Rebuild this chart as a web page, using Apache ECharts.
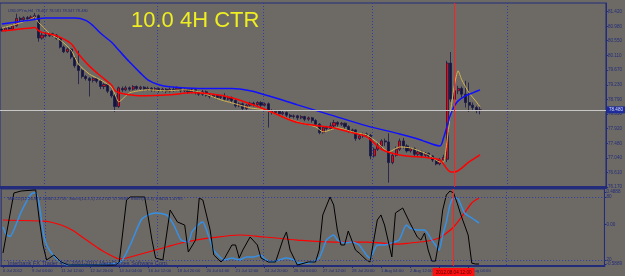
<!DOCTYPE html>
<html>
<head>
<meta charset="utf-8">
<script src="https://cdn.jsdelivr.net/npm/echarts@6/dist/echarts.min.js"></script>
<style>
html, body { margin: 0; padding: 0; background: #6d6a66; }
#chart { width: 625px; height: 276px; }
</style>
</head>
<body>
<div id="chart"></div>
<script>
// USDJPY H4 bars
var opens = [80.90,80.86,80.93,80.90,81.00,81.22,81.18,81.24,81.20,81.26,
  81.30,80.63,80.72,80.70,80.76,80.72,80.62,80.36,80.22,80.30,
  80.06,79.80,79.66,79.48,79.42,79.36,79.42,79.34,79.18,79.24,
  79.04,78.90,78.58,79.12,79.08,79.14,79.10,79.18,79.12,79.16,
  79.10,79.13,79.07,79.12,79.06,79.10,79.04,79.10,79.08,79.13,
  79.05,79.10,79.02,79.08,79.00,78.95,79.02,78.92,78.88,78.92,
  78.85,78.88,78.80,78.84,78.76,78.60,78.66,78.52,78.62,78.68,
  78.64,78.70,78.62,78.66,78.45,78.40,78.44,78.36,78.40,78.32,
  78.28,78.30,78.24,78.28,78.20,78.24,78.16,78.05,77.80,77.95,
  77.92,78.00,78.10,78.05,78.08,77.98,77.86,77.88,77.62,77.70,
  77.76,77.72,77.10,77.30,77.40,77.55,77.52,76.90,77.12,77.30,
  77.55,77.40,77.25,77.32,77.15,77.22,77.12,77.18,77.10,76.98,
  76.86,76.98,77.00,79.88,78.80,79.05,79.12,78.95,78.70,78.62,
  78.55,78.467];
var closes = [80.86,80.93,80.90,81.00,81.22,81.18,81.24,81.20,81.26,81.30,
  80.63,80.72,80.70,80.76,80.72,80.62,80.36,80.22,80.30,80.06,
  79.80,79.66,79.48,79.42,79.36,79.42,79.34,79.18,79.24,79.04,
  78.90,78.58,79.14,79.08,79.14,79.10,79.18,79.12,79.16,79.10,
  79.13,79.07,79.12,79.06,79.10,79.04,79.10,79.08,79.13,79.05,
  79.10,79.02,79.08,79.00,78.95,79.02,78.92,78.88,78.92,78.85,
  78.88,78.80,78.84,78.76,78.60,78.66,78.52,78.62,78.68,78.64,
  78.70,78.62,78.66,78.45,78.40,78.44,78.36,78.40,78.32,78.28,
  78.30,78.24,78.28,78.20,78.24,78.16,78.05,77.80,77.95,77.92,
  78.00,78.10,78.05,78.08,77.98,77.86,77.88,77.62,77.70,77.76,
  77.72,77.10,77.30,77.40,77.55,77.52,76.90,77.12,77.30,77.55,
  77.40,77.25,77.32,77.15,77.22,77.12,77.18,77.10,76.98,76.86,
  76.98,77.06,79.88,78.80,79.05,79.12,78.95,78.70,78.62,78.55,
  78.467,78.480];
var lows = [80.82,80.83,80.86,80.87,80.97,81.12,81.14,81.15,81.16,81.20,
  80.52,80.58,80.65,80.66,80.67,80.58,80.32,80.18,80.18,80.00,
  79.74,79.25,79.42,79.36,78.88,79.30,79.28,79.10,79.10,78.98,
  78.84,78.42,78.54,79.02,79.04,79.05,79.06,79.08,79.06,79.04,
  79.05,79.02,79.03,79.00,79.02,78.98,79.00,79.02,79.04,79.00,
  79.00,78.96,78.98,78.94,78.90,78.90,78.88,78.82,78.84,78.80,
  78.80,78.75,78.76,78.70,78.55,78.56,78.45,78.48,78.58,78.58,
  78.60,78.56,78.58,77.95,78.34,78.35,78.30,78.32,78.26,78.22,
  78.22,78.18,78.20,78.14,78.15,78.10,78.00,77.75,77.77,77.86,
  77.88,77.95,77.98,78.00,77.92,77.80,77.80,77.55,77.58,77.64,
  77.66,77.00,77.05,77.25,77.35,77.40,76.30,76.85,77.08,77.25,
  77.32,77.20,77.20,77.10,77.10,77.06,77.06,77.04,76.92,76.82,
  76.82,76.94,76.92,78.72,78.70,78.95,78.85,78.55,78.42,78.45,
  78.38,78.347];
var highs = [80.95,80.97,80.98,81.04,81.36,81.27,81.28,81.29,81.31,81.38,
  81.34,80.78,80.80,80.80,80.79,80.75,80.66,80.40,80.34,80.33,
  80.10,80.25,79.70,79.52,79.46,79.46,79.46,79.38,79.28,79.27,
  79.08,78.95,79.18,79.18,79.20,79.18,79.22,79.21,79.20,79.19,
  79.18,79.16,79.16,79.15,79.14,79.13,79.15,79.17,79.18,79.16,
  79.14,79.12,79.12,79.11,79.05,79.08,79.06,78.96,78.96,78.95,
  78.92,78.98,78.90,78.88,78.80,78.70,78.70,78.66,78.72,78.72,
  78.74,78.74,78.70,78.70,78.50,78.48,78.47,78.45,78.43,78.36,
  78.34,78.33,78.32,78.30,78.28,78.27,78.20,78.08,77.98,78.00,
  78.10,78.18,78.14,78.12,78.10,78.02,77.92,77.90,77.75,77.80,
  77.80,77.76,77.35,77.50,77.60,77.62,77.78,77.18,77.38,77.62,
  77.64,77.45,77.36,77.36,77.28,77.26,77.22,77.20,77.12,77.02,
  77.04,77.14,79.95,80.21,79.40,79.20,79.18,79.35,79.30,78.70,
  78.60,78.581];

// moving averages as [bar, price]
var blueMa = [[0,81.05],[8,81.17],[12,81.23],[20,81.23],[23,81.16],[25,81.00],[27,80.78],[30,80.51],
  [32,80.27],[35,79.91],[38,79.58],[40,79.38],[43,79.23],[46,79.17],[54,79.12],[63,79.12],
  [68,79.05],[73,78.90],[81,78.63],[90,78.33],[100,78.00],[109,77.76],[114,77.61],[120,77.40],
  [121,77.64],[122,78.00],[123,78.36],[124,78.60],[125,78.75],[127,78.90],[129,78.99],[131,79.08]];
var redMa = [[0,80.84],[5,80.90],[8,80.93],[9,80.95],[10,80.86],[11,80.80],[15,80.70],[19,80.46],
  [21,80.15],[24,79.79],[27,79.50],[30,79.23],[31,79.06],[32,79.00],[34,78.95],[38,78.90],
  [46,78.93],[52,78.99],[57,78.96],[63,78.84],[72,78.50],[81,78.10],[91,77.94],[95,77.82],
  [100,77.67],[104,77.30],[109,77.13],[117,77.04],[120,76.98],[123,76.62],[124,76.62],
  [128,76.92],[131,77.13]];
var yellowMa = [[0,80.93],[4,81.05],[8,81.20],[9,81.26],[10,81.10],[11,81.00],[13,80.78],[16,80.57],
  [19,80.27],[21,79.85],[24,79.55],[27,79.38],[30,79.17],[31,78.95],[32,78.72],[35,78.99],
  [40,79.08],[45,79.05],[50,79.08],[54,79.02],[60,78.78],[63,78.69],[68,78.54],[72,78.48],
  [77,78.27],[81,78.12],[86,77.97],[88,77.82],[92,77.94],[97,77.79],[100,77.73],[103,77.49],
  [106,77.22],[109,77.37],[112,77.34],[117,77.13],[120,76.92],[121,76.92],[122,77.58],
  [123,78.48],[124,79.23],[125,79.65],[126,79.38],[128,78.99],[130,78.72],[131,78.57]];

// lower window lines as [bar, value]
var stochFast = [[0,26.7],[3,83.8],[5,85.7],[9,86.7],[10,58],[11,34.3],[12,20],[14,24.8],[16,18.1],
  [18,15.2],[31,15.2],[32,18.1],[34,77.1],[35,80],[39,80],[40,60],[41,39],[42,21.9],[44,20],
  [46,67.6],[48,56.2],[50,53.3],[51,27.6],[53,39],[54,79],[55,77.1],[57,48.6],[58,24.8],
  [60,18.1],[61,21.9],[63,34.3],[64,34.3],[65,21.9],[66,29.5],[68,41.9],[70,34.3],[71,21.9],
  [73,18.1],[75,18.1],[77,39],[78,46.7],[79,29.5],[81,15.2],[84,18.1],[86,18.1],[87,29.5],
  [88,62.9],[90,80],[91,72.4],[92,48.6],[93,34.3],[94,34.3],[95,47.6],[97,29.5],[98,26.7],
  [100,20],[101,18.1],[103,58.1],[104,62.9],[105,53.3],[107,22.9],[108,64.8],[110,69.5],
  [112,55.2],[114,41.9],[115,39],[116,45.7],[117,29.5],[118,19],[119,19],[120,39],[121,67.6],
  [122,81.9],[123,85.7],[124,83.8],[125,74],[126,63],[128,43.8],[129,17],[130,16.2],[131,16.2]];
var stochSlow = [[0,51.4],[1,44],[2,42.5],[3,48.6],[5,65.7],[7,79],[8,83.5],[9,84],[10,72.4],
  [11,48],[12,34.3],[14,23.8],[16,18.1],[18,15.2],[32,17.1],[35,34.3],[38,58.1],[40,62.9],
  [42,64.8],[45,62.9],[47,53.3],[49,39],[51,37.1],[52,46.7],[54,54.3],[55,56.2],[56,48.6],
  [58,29.5],[60,21.9],[61,20],[63,21.9],[65,20],[67,22.9],[69,22.9],[71,24.8],[72,21],
  [74,18.1],[76,20],[78,21.9],[80,20],[81,17.1],[84,17.1],[87,21.9],[89,39],[91,43.8],
  [92,39],[94,36.2],[96,37.1],[98,34.3],[100,24.8],[101,21.9],[103,34.3],[105,34.3],
  [107,36.2],[109,39],[111,53.3],[112,50.5],[114,48.6],[116,48.6],[118,39],[119,34.3],
  [120,29.5],[121,43.8],[122,56.2],[123,72.4],[124,79],[125,79],[126,72.4],[127,64.8],
  [129,60],[131,55.2]];
var signalLine = [[0,58.1],[11,57.1],[13,56.2],[16,53.3],[19,48.6],[23,39],[27,29.5],[30,23.8],
  [32,21],[34,21.9],[37,24.8],[41,28.6],[45,32.4],[49,36.2],[53,39],[57,41],[65,43.8],
  [72,41.9],[81,39],[91,37.1],[100,37.1],[109,35.2],[112,36.2],[117,38.1],[120,41],
  [121,42.9],[124,51.4],[127,64.8],[129,74.3],[131,79]];

var priceTicks = [76.17, 76.61, 77.04, 77.48, 77.92, 78.35, 78.79, 79.23, 79.67, 80.11, 80.55, 80.98, 81.42];
var stochLevels = [80, 20];
var macdTicks = [0.4888, 0, -0.5889];
var timeLabels = ['6 Jul 2012', '9 Jul 04:00', '11 Jul 12:00', '12 Jul 20:00', '14 Jul 04:00',
  '16 Jul 12:00', '18 Jul 20:00', '20 Jul 04:00', '21 Jul 12:00', '24 Jul 20:00', '26 Jul 04:00',
  '27 Jul 12:00', '28 Jul 20:00', '1 Aug 04:00', '2 Aug 12:00', '3 Aug 20:00', '5 Aug 04:00'];
var gridBars = [12, 43, 72, 102, 139];
var lastPrice = 78.48;
var markerBar = 124;

var barCount = 166;
var categories = [];
for (var i = 0; i < barCount; i++) categories.push(i);

var candleData = [];
for (var i = 0; i < opens.length; i++) {
  candleData.push([opens[i], closes[i], lows[i], highs[i]]);
}

var navy = '#222c7a';
var dots = '#2e3ca6';
var tiny = 'Liberation Sans';

function labelBar(idx) {
  return idx % 8 === 0 && idx / 8 < timeLabels.length;
}
function gridBar(idx) {
  return gridBars.indexOf(idx) >= 0;
}

var dom = document.getElementById('chart');
var myChart = echarts.init(dom, null, { renderer: 'canvas' });

var option = {
  backgroundColor: '#6d6a66',
  animation: false,
  title: [
    { text: '10.0 4H CTR', left: 126, top: 5,
      textStyle: { color: '#eeee22', fontSize: 22, fontWeight: 'normal', fontFamily: 'Liberation Sans' } },
    { text: 'USDJPYm,H4  78.467 78.581 78.347 78.480', left: 3, top: 4,
      textStyle: { color: navy, fontSize: 4, fontWeight: 'normal', fontFamily: tiny } },
    { text: 'MACD(12,26,9) 0.1084 0.2756  Stoch(14,3,5) 23.2747 57.9980  Stoch(5,3,3) 1.9433 1.4795', left: 3, top: 192,
      textStyle: { color: navy, fontSize: 4.3, fontWeight: 'normal', fontFamily: tiny } },
    { text: 'Interbank FX Trader 4, \u00a9 2001-2011 MetaQuotes Software Corp.', left: 3, top: 255,
      textStyle: { color: navy, fontSize: 5.6, fontWeight: 'normal', fontFamily: tiny } }
  ],
  grid: [
    { left: 0, right: 18, top: 3, height: 184, show: true, borderColor: navy, borderWidth: 1 },
    { left: 0, right: 18, top: 189, height: 77, show: true, borderColor: navy, borderWidth: 1 }
  ],
  xAxis: [
    { type: 'category', gridIndex: 0, data: categories, boundaryGap: true,
      axisLine: { show: true, onZero: false, lineStyle: { color: navy, width: 3 } },
      axisTick: { show: false }, axisLabel: { show: false },
      splitLine: { show: true, interval: gridBar, lineStyle: { color: dots, type: [1, 2], width: 1 } } },
    { type: 'category', gridIndex: 1, data: categories, boundaryGap: true,
      axisLine: { show: true, onZero: false, lineStyle: { color: navy, width: 2 } },
      axisTick: { show: true, interval: labelBar, alignWithLabel: true, length: 2, lineStyle: { color: navy } },
      axisLabel: { show: true, interval: labelBar, align: 'left', margin: 3, color: navy, fontSize: 4.2, fontFamily: tiny,
        formatter: function (val, idx) { return timeLabels[idx / 8]; } },
      splitLine: { show: true, interval: gridBar, lineStyle: { color: dots, type: [1, 2], width: 1 } } }
  ],
  yAxis: [
    { type: 'value', gridIndex: 0, position: 'right', min: 76.17, max: 81.68,
      axisLine: { show: true, lineStyle: { color: navy } },
      axisTick: { show: true, length: 2, customValues: priceTicks, lineStyle: { color: navy } },
      axisLabel: { customValues: priceTicks, margin: 2, color: navy, fontSize: 4.6, fontFamily: tiny,
        formatter: function (v) { return v.toFixed(3); } },
      splitLine: { show: false } },
    { type: 'value', gridIndex: 1, position: 'right', min: 14.3, max: 87.6,
      axisLine: { show: true, lineStyle: { color: navy } },
      axisTick: { show: true, length: 2, customValues: stochLevels, lineStyle: { color: navy } },
      axisLabel: { customValues: stochLevels, margin: 2, color: navy, fontSize: 4.6, fontFamily: tiny,
        formatter: function (v) { return String(v); } },
      splitLine: { show: false } },
    { type: 'value', gridIndex: 1, position: 'right', min: -0.6188, max: 0.5337,
      axisLine: { show: false },
      axisTick: { show: true, length: 2, customValues: macdTicks, lineStyle: { color: navy } },
      axisLabel: { customValues: macdTicks, margin: 2, color: navy, fontSize: 4.6, fontFamily: tiny,
        formatter: function (v) { return v === 0 ? '0.00' : v.toFixed(4); } },
      splitLine: { show: false } }
  ],
  series: [
    { type: 'candlestick', xAxisIndex: 0, yAxisIndex: 0, data: candleData, barWidth: 2.6,
      itemStyle: { color: '#ff0000', color0: '#14143c', borderColor: '#1a1a48', borderColor0: '#1a1a48', borderWidth: 0.8 },
      markLine: { symbol: ['none', 'none'], silent: true, animation: false,
        data: [
          { yAxis: lastPrice, lineStyle: { color: '#c8c8c8', width: 1, type: 'solid' },
            label: { show: true, position: 'end', distance: 1, formatter: '78.480', backgroundColor: '#1e2c9a',
              color: '#dcdcff', fontSize: 4.6, padding: [1, 2], fontFamily: tiny } },
          { xAxis: markerBar, lineStyle: { color: '#ff2020', width: 1, type: 'solid' }, label: { show: false } }
        ] } },
    { type: 'line', xAxisIndex: 0, yAxisIndex: 0, data: yellowMa, symbol: 'none', smooth: 0.2,
      lineStyle: { color: '#d4b450', width: 1 } },
    { type: 'line', xAxisIndex: 0, yAxisIndex: 0, data: redMa, symbol: 'none', smooth: 0.3,
      lineStyle: { color: '#ff0000', width: 1.5 } },
    { type: 'line', xAxisIndex: 0, yAxisIndex: 0, data: blueMa, symbol: 'none', smooth: 0.3,
      lineStyle: { color: '#1010ff', width: 1.5 } },
    { type: 'line', xAxisIndex: 1, yAxisIndex: 1, data: signalLine, symbol: 'none', smooth: 0.3,
      lineStyle: { color: '#ff0000', width: 1.2 } },
    { type: 'line', xAxisIndex: 1, yAxisIndex: 1, data: stochSlow, symbol: 'none', smooth: 0.2,
      lineStyle: { color: '#3590e6', width: 1.5 } },
    { type: 'line', xAxisIndex: 1, yAxisIndex: 1, data: stochFast, symbol: 'none',
      lineStyle: { color: '#000000', width: 1 },
      markLine: { symbol: ['none', 'none'], silent: true, animation: false,
        data: [
          { yAxis: 80, lineStyle: { color: dots, width: 1, type: [1, 2] }, label: { show: false } },
          { yAxis: 20, lineStyle: { color: dots, width: 1, type: [1, 2] }, label: { show: false } },
          { xAxis: markerBar, lineStyle: { color: '#ff2020', width: 1, type: 'solid' },
            label: { show: true, position: 'start', distance: 2, formatter: '2012.08.04 12:00',
              backgroundColor: '#ff1010', color: '#500000', fontSize: 4.6, padding: [2, 3], fontFamily: tiny } }
        ] } }
  ]
};

myChart.setOption(option);
window.addEventListener('resize', myChart.resize);
</script>
</body>
</html>
